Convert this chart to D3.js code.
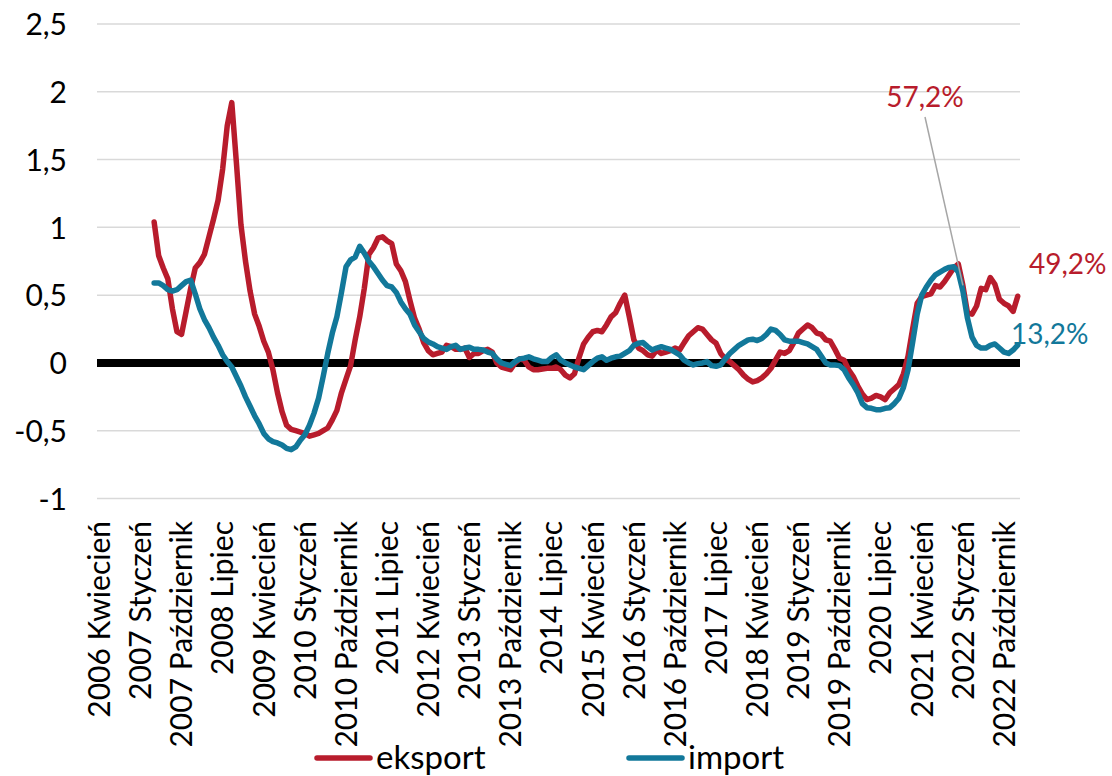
<!DOCTYPE html>
<html><head><meta charset="utf-8">
<script src="https://cdn.jsdelivr.net/npm/d3@7"></script>
<style>
html,body{margin:0;padding:0;background:#fff;}
text{font-family:Lato,"Open Sans",sans-serif;}
</style></head>
<body><svg id="c" width="1112" height="776"></svg>
<script>
const monthNames = ["Styczeń","Luty","Marzec","Kwiecień","Maj","Czerwiec","Lipiec","Sierpień","Wrzesień","Październik","Listopad","Grudzień"];
const startYear = 2006, startMonth = 3, nMonths = 202;
const categories = [];
for (let i = 0; i < nMonths; i++) {
  const m = startMonth + i;
  categories.push((startYear + Math.floor(m / 12)) + " " + monthNames[m % 12]);
}
const seriesStart = 12; // first category with data (2007 Kwiecień)
const eksport = [1.04,0.79,0.70,0.62,0.40,0.23,0.21,0.38,0.55,0.70,0.74,0.80,0.93,1.06,1.20,1.43,1.75,1.92,1.48,1.02,
0.75,0.53,0.36,0.27,0.16,0.08,-0.05,-0.22,-0.36,-0.46,-0.49,-0.50,-0.51,-0.52,-0.54,-0.53,-0.52,-0.50,-0.48,-0.42,
-0.35,-0.22,-0.12,-0.02,0.17,0.34,0.55,0.80,0.85,0.92,0.93,0.90,0.88,0.73,0.68,0.60,0.46,0.33,0.25,0.15,
0.09,0.06,0.07,0.08,0.13,0.12,0.10,0.10,0.11,0.04,0.07,0.07,0.09,0.10,0.08,0.00,-0.03,-0.04,-0.05,0.00,
0.03,0.02,-0.03,-0.05,-0.05,-0.045,-0.04,-0.04,-0.03,-0.05,-0.09,-0.11,-0.08,0.04,0.14,0.19,0.23,0.24,0.23,0.28,
0.34,0.37,0.44,0.50,0.34,0.17,0.11,0.09,0.06,0.05,0.095,0.07,0.08,0.09,0.11,0.095,0.15,0.20,0.23,0.26,
0.25,0.21,0.17,0.145,0.07,0.03,0.01,-0.02,-0.05,-0.09,-0.12,-0.14,-0.13,-0.11,-0.08,-0.04,0.02,0.08,0.07,0.09,
0.15,0.22,0.25,0.28,0.26,0.22,0.21,0.17,0.16,0.10,0.035,0.02,-0.05,-0.10,-0.17,-0.23,-0.27,-0.26,-0.24,-0.25,
-0.27,-0.22,-0.19,-0.16,-0.08,0.05,0.25,0.44,0.49,0.50,0.51,0.57,0.56,0.60,0.65,0.70,0.73,0.572,0.37,0.36,
0.42,0.55,0.54,0.63,0.58,0.47,0.44,0.42,0.38,0.492];
const importVals = [0.59,0.59,0.57,0.54,0.53,0.54,0.57,0.60,0.61,0.51,0.40,0.32,0.26,0.19,0.13,0.06,0.01,-0.03,-0.10,-0.17,
-0.25,-0.32,-0.39,-0.45,-0.52,-0.56,-0.58,-0.59,-0.605,-0.63,-0.64,-0.62,-0.57,-0.53,-0.46,-0.37,-0.26,-0.10,0.07,0.22,
0.34,0.52,0.71,0.76,0.78,0.86,0.81,0.75,0.71,0.66,0.61,0.57,0.56,0.52,0.45,0.40,0.36,0.28,0.23,0.18,
0.155,0.14,0.12,0.11,0.10,0.12,0.13,0.10,0.11,0.115,0.10,0.10,0.095,0.08,0.07,0.03,0.00,-0.01,-0.02,0.01,
0.03,0.035,0.045,0.03,0.02,0.01,0.01,0.04,0.06,0.02,0.00,-0.015,-0.03,-0.04,-0.05,-0.02,0.01,0.035,0.045,0.02,
0.035,0.045,0.05,0.07,0.09,0.13,0.145,0.15,0.12,0.095,0.11,0.12,0.11,0.10,0.08,0.06,0.02,0.00,-0.015,-0.005,
0.00,0.01,-0.02,-0.025,-0.015,0.03,0.07,0.10,0.13,0.15,0.17,0.175,0.165,0.18,0.21,0.25,0.24,0.21,0.17,0.16,
0.16,0.16,0.15,0.14,0.12,0.10,0.05,0.00,-0.015,-0.015,-0.02,-0.05,-0.11,-0.16,-0.22,-0.30,-0.33,-0.335,-0.345,-0.345,
-0.335,-0.33,-0.30,-0.26,-0.18,-0.05,0.15,0.36,0.50,0.56,0.61,0.65,0.67,0.69,0.705,0.71,0.67,0.53,0.33,0.19,
0.13,0.11,0.11,0.13,0.14,0.11,0.08,0.07,0.095,0.132];
const yTicks = [-1,-0.5,0,0.5,1,1.5,2,2.5];
const labelEvery = 9;
const seriesNames = ["eksport","import"];
const colors = {eksport:"#B81C2C", import:"#12789A"};
const annotations = [
  {series:"eksport", idx:189, text:"57,2%"},
  {series:"eksport", idx:201, text:"49,2%"},
  {series:"import", idx:201, text:"13,2%"}
];

const svg = d3.select("#c");
const fmt = v => String(v).replace(".", ",");
const x = d3.scaleBand().domain(categories).range([97, 1020]).padding(0);
const y = d3.scaleLinear().domain([-1, 2.5]).range([498.5, 24]);
const cx = i => x(categories[i]) + x.bandwidth() / 2;

// gridlines
svg.append("g").selectAll("line").data(yTicks.filter(t => t !== 0)).join("line")
  .attr("x1", 97).attr("x2", 1020).attr("y1", d => y(d)).attr("y2", d => y(d))
  .attr("stroke", "#d9d9d9").attr("stroke-width", 1.5);

// y axis labels
const yAxis = d3.axisLeft(y).tickValues(yTicks).tickFormat(fmt).tickSize(0).tickPadding(0);
const ya = svg.append("g").attr("transform", "translate(67,0)").call(yAxis);
ya.select(".domain").remove();
ya.selectAll("text").attr("font-family", "Lato").attr("font-size", 30).attr("fill", "#000").attr("dy", "0.36em");

// x labels
const xAxis = d3.axisBottom(x).tickValues(categories.filter((c, i) => i % labelEvery === 0)).tickSize(0).tickPadding(0);
const xa = svg.append("g").attr("transform", "translate(0,521)").call(xAxis);
xa.select(".domain").remove();
xa.selectAll("text").attr("font-family", "Lato").attr("font-size", 30).attr("fill", "#000")
  .attr("text-anchor", "end").attr("transform", "rotate(-90)").attr("x", 0).attr("y", 0).attr("dy", "0.36em");

// zero line
svg.append("line").attr("x1", 97).attr("x2", 1020).attr("y1", y(0)).attr("y2", y(0))
  .attr("stroke", "#000").attr("stroke-width", 8);

const data = {
  eksport: categories.map((c, i) => i >= seriesStart ? eksport[i - seriesStart] : null),
  import: categories.map((c, i) => i >= seriesStart ? importVals[i - seriesStart] : null)
};
const line = d3.line().defined(d => d != null).x((d, i) => cx(i)).y(d => y(d));
["eksport", "import"].forEach(s => {
  svg.append("path").attr("d", line(data[s])).attr("fill", "none").attr("stroke", colors[s])
    .attr("stroke-width", 5.5).attr("stroke-linejoin", "round").attr("stroke-linecap", "round");
});

// annotations
const a0 = annotations[0];
svg.append("line").attr("x1", 925).attr("y1", 117).attr("x2", cx(a0.idx)).attr("y2", y(data.eksport[a0.idx]))
  .attr("stroke", "#a6a6a6").attr("stroke-width", 1.5);
svg.append("text").attr("x", 925).attr("y", 107).attr("text-anchor", "middle").attr("font-size", 28)
  .attr("fill", colors.eksport).text(a0.text);
svg.append("text").attr("x", 1029).attr("y", 274).attr("font-size", 28).attr("fill", colors.eksport).text(annotations[1].text);
svg.append("text").attr("x", 1011).attr("y", 344).attr("font-size", 28).attr("fill", colors.import).text(annotations[2].text);

// legend
const legX = [317, 629];
seriesNames.forEach((s, k) => {
  svg.append("line").attr("x1", legX[k]).attr("x2", legX[k] + 53).attr("y1", 758).attr("y2", 758)
    .attr("stroke", colors[s]).attr("stroke-width", 5.5).attr("stroke-linecap", "round");
  svg.append("text").attr("x", legX[k] + 59).attr("y", 769).attr("font-size", 33).attr("fill", "#000").text(s);
});
</script></body></html>
